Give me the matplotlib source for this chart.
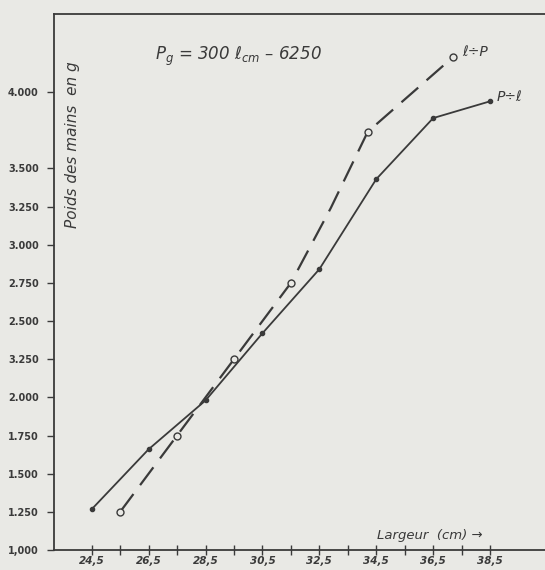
import matplotlib
matplotlib.use("Agg")
import matplotlib.pyplot as plt

# Data
solid_x = [24.5, 26.5, 28.5, 30.5, 32.5, 34.5, 36.5, 38.5]          # P ÷ l
solid_y = [1267, 1660, 1980, 2420, 2840, 3430, 3830, 3940]
dashed_x = [25.5, 27.5, 29.5, 31.5, 32.9, 34.2, 37.2]               # l ÷ P
dashed_y = [1250, 1750, 2250, 2750, 3240, 3740, 4230]

x_ticks = [24.5, 25.5, 26.5, 27.5, 28.5, 29.5, 30.5, 31.5, 32.5, 33.5, 34.5, 35.5, 36.5, 37.5, 38.5]
x_labels = ["24,5", "", "26,5", "", "28,5", "", "30,5", "", "32,5", "", "34,5", "", "36,5", "", "38,5"]
y_ticks = [1000, 1250, 1500, 1750, 2000, 2250, 2500, 2750, 3000, 3250, 3500, 4000]
y_labels = ["1,000", "1.250", "1.500", "1.750", "2.000", "3.250", "2.500", "2.750", "3.000", "3.250", "3.500", "4.000"]

plt.rcParams['mathtext.fontset'] = 'dejavusans'

W, H = 545, 570
fig = plt.figure(figsize=(W / 100, H / 100), dpi=100)
bg = '#e9e9e5'
fig.patch.set_facecolor(bg)

L, B, T, R = 54, 550, 14, 545
ax = fig.add_axes([L / W, (H - B) / H, (R - L) / W, (B - T) / H])
ax.set_facecolor(bg)

ink = '#3a3a3a'
ax.plot(solid_x, solid_y, color=ink, lw=1.3, marker='o', ms=3, mfc=ink, mec=ink)
ax.plot(dashed_x, dashed_y, color=ink, lw=1.6, dashes=(10, 5), marker='o', ms=5,
        mfc=bg, mec=ink, mew=1.0, markevery=[0, 1, 2, 3, 5, 6])

ax.set_xlim(23.175, 40.43)
ax.set_ylim(1000, 4512)

ax.spines['right'].set_visible(False)
for s in ['left', 'bottom', 'top']:
    ax.spines[s].set_color(ink)
    ax.spines[s].set_linewidth(1.3)

ax.set_xticks(x_ticks)
ax.set_xticklabels(x_labels, fontsize=7.5, style='italic', color=ink, fontweight='bold')
ax.set_yticks(y_ticks)
ax.set_yticklabels(y_labels, fontsize=7, color=ink, fontweight='bold')
ax.tick_params(axis='x', direction='inout', length=7, width=1.0, color=ink, pad=0.5)
ax.tick_params(axis='y', direction='out', length=5, width=1.0, color=ink, pad=6)

def af(px, py):
    return ((px - L) / (R - L), (B - py) / (B - T))

ax.text(*af(155, 56), r"$P_{g}$ = 300 $\ell_{cm}$ – 6250", transform=ax.transAxes,
        fontsize=12, style='italic', color=ink, ha='left', va='center')
ax.text(*af(462, 52), "ℓ÷P", transform=ax.transAxes, fontsize=10, style='italic',
        color=ink, ha='left', va='center')
ax.text(*af(497, 97), "P÷ℓ", transform=ax.transAxes, fontsize=10, style='italic',
        color=ink, ha='left', va='center')
ax.text(*af(72, 145), "Poids des mains  en g", transform=ax.transAxes, fontsize=11,
        style='italic', color=ink, ha='center', va='center', rotation=90)
ax.text(*af(377, 535), "Largeur  (cm) →", transform=ax.transAxes, fontsize=9.5,
        style='italic', color=ink, ha='left', va='center')

fig.savefig("out.png", dpi=100, facecolor=bg)
